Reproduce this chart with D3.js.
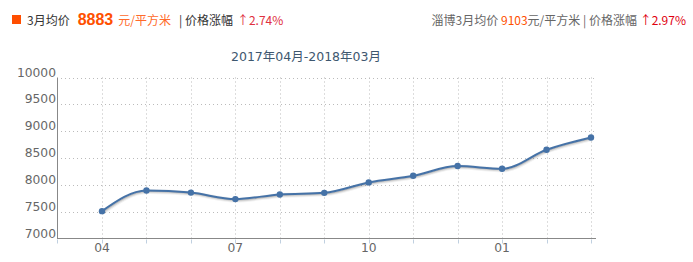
<!DOCTYPE html>
<html><head><meta charset="utf-8">
<script src="https://cdn.jsdelivr.net/npm/d3@7"></script>
<style>
body{margin:0;background:#fff;}
svg{display:block;font-family:"DejaVu Sans",Verdana,sans-serif;}
</style></head>
<body><svg id="c" width="693" height="262"></svg>
<script>
const months = ["04","05","06","07","08","09","10","11","12","01","02","03"];
const prices = [7510, 7895, 7855, 7734, 7821, 7851, 8045, 8169, 8350, 8299, 8654, 8883];
const yTicks = [7000, 7500, 8000, 8500, 9000, 9500, 10000];
const xLabelIdx = [0, 3, 6, 9];
const title = "2017年04月-2018年03月";

const svg = d3.select("#c");
const cjk = '"Noto Sans CJK SC","DejaVu Sans",sans-serif';
const mix = '"DejaVu Sans","Noto Sans CJK SC",sans-serif';

// header left
const hl = svg.append("g");
hl.append("rect").attr("x", 12).attr("y", 15).attr("width", 9).attr("height", 9).attr("fill", "#ff4e00");
const t1 = hl.append("text").attr("x", 27).attr("y", 25).attr("font-size", 12).attr("font-family", cjk).attr("fill", "#333");
t1.append("tspan").text("3月均价");
t1.append("tspan").attr("dx", 8).attr("font-size", 16).attr("font-weight", "bold").attr("fill", "#ff5000").attr("font-family", "Arial, Liberation Sans, sans-serif").text("8883");
t1.append("tspan").attr("dx", 5).attr("fill", "#ff6a2a").text("元/平方米");
t1.append("tspan").attr("dx", 8).attr("fill", "#333").text("| 价格涨幅");
t1.append("tspan").attr("dx", 4).attr("fill", "#e03040").text("↑2.74%");

// header right
const t2 = svg.append("text").attr("x", 686).attr("y", 25).attr("text-anchor", "end").attr("font-size", 12).attr("font-family", cjk).attr("fill", "#666");
t2.append("tspan").text("淄博3月均价 ");
t2.append("tspan").attr("fill", "#ff5000").text("9103");
t2.append("tspan").text("元/平方米 | 价格涨幅 ");
t2.append("tspan").attr("fill", "#e00010").text("↑2.97%");

// title
svg.append("text").attr("x", 306).attr("y", 61).attr("text-anchor", "middle")
  .attr("font-size", 12.5).attr("font-family", mix).attr("fill", "#3e576f").text(title);

// scales
const pL = 57, pR = 596, pT = 77.5, pB = 238.5;
const x = d3.scalePoint().domain(months).range([102, 591]);
const y = d3.scaleLinear().domain([7000, 10000]).range([pB, pT]);

// horizontal grid
svg.append("g").selectAll("line").data(yTicks.filter(v => v > 7000)).join("line")
  .attr("x1", pL).attr("x2", pR - 2).attr("y1", d => Math.round(y(d)) + 0.5).attr("y2", d => Math.round(y(d)) + 0.5)
  .attr("stroke", "#bbb").attr("stroke-dasharray", "1,3");
// vertical grid
svg.append("g").selectAll("line").data(months).join("line")
  .attr("x1", d => Math.round(x(d)) + 0.5).attr("x2", d => Math.round(x(d)) + 0.5)
  .attr("y1", pT).attr("y2", pB)
  .attr("stroke", "#bbb").attr("stroke-dasharray", "1,3");

// axes
svg.append("line").attr("x1", pL + 0.5).attr("x2", pL + 0.5).attr("y1", pT).attr("y2", pB)
  .attr("stroke", "#888").attr("stroke-width", 1);
svg.append("line").attr("x1", pL).attr("x2", pR).attr("y1", pB).attr("y2", pB)
  .attr("stroke", "#888").attr("stroke-width", 1.2);
// ticks below x axis
svg.append("g").selectAll("line").data([pL].concat(months.map(m => Math.round(x(m))))).join("line")
  .attr("x1", d => d + 0.5).attr("x2", d => d + 0.5).attr("y1", pB + 1).attr("y2", pB + 5)
  .attr("stroke", "#c0d0e0");

// y labels
svg.append("g").selectAll("text").data(yTicks).join("text")
  .attr("x", pL - 1).attr("y", d => y(d) - 1).attr("text-anchor", "end")
  .attr("font-size", 12.3).attr("fill", "#666").text(d => d);

// x labels
svg.append("g").selectAll("text").data(xLabelIdx).join("text")
  .attr("x", i => x(months[i])).attr("y", 252).attr("text-anchor", "middle")
  .attr("font-size", 12.3).attr("fill", "#666").text(i => months[i]);

// line
const line = d3.line().x((d, i) => x(months[i])).y(d => y(d)).curve(d3.curveMonotoneX);
const sh = svg.append("g").attr("transform", "translate(1,1)");
[[5, 0.05], [3, 0.1], [1, 0.15]].forEach(([w, o]) => {
  sh.append("path").attr("d", line(prices)).attr("fill", "none").attr("stroke", "#000")
    .attr("stroke-opacity", o).attr("stroke-width", w);
});
svg.append("path").attr("d", line(prices)).attr("fill", "none").attr("stroke", "#4572a7").attr("stroke-width", 2);
svg.append("g").selectAll("circle").data(prices).join("circle")
  .attr("cx", (d, i) => x(months[i])).attr("cy", d => y(d)).attr("r", 3.2).attr("fill", "#4572a7");
</script></body></html>
